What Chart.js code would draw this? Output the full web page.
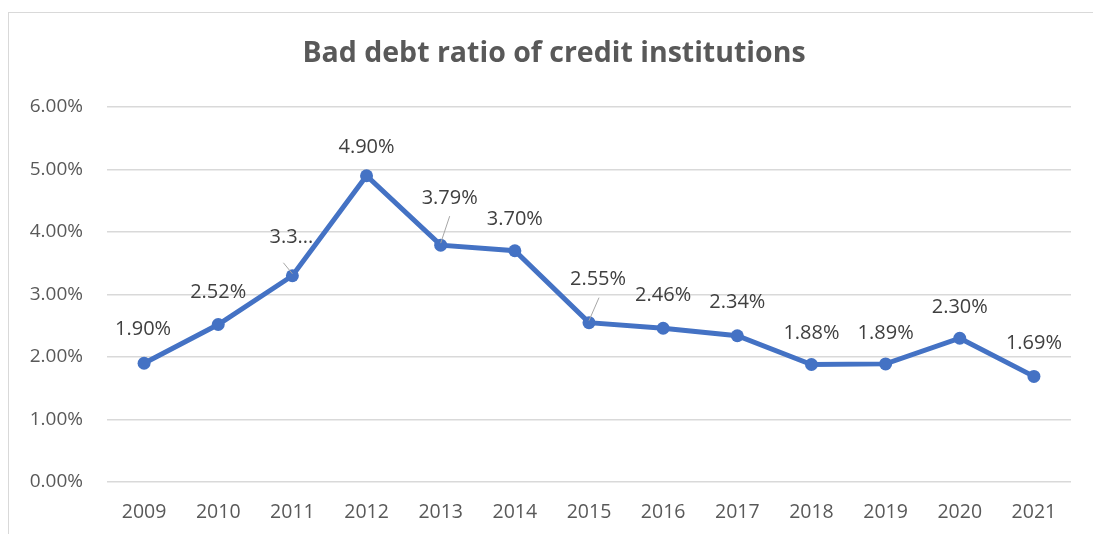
<!DOCTYPE html>
<html>
<head>
<meta charset="utf-8">
<script src="https://cdn.jsdelivr.net/npm/chart.js@4.4.1/dist/chart.umd.min.js"></script>
<style>
  html, body { margin: 0; padding: 0; background: #fff; overflow: hidden; }
  #frame { position: absolute; left: 8px; top: 12px; width: 1200px; height: 600px; border: 1px solid #d9d9d9; }
  #wrap { position: absolute; left: 0; top: 0; width: 1093px; height: 534px; }
</style>
</head>
<body>
<div id="frame"></div>
<div id="wrap"><canvas id="chart" width="1093" height="534"></canvas></div>
<script>
const years = ['2009', '2010', '2011', '2012', '2013', '2014', '2015', '2016', '2017', '2018', '2019', '2020', '2021'];
const badDebt = [1.90, 2.52, 3.30, 4.90, 3.79, 3.70, 2.55, 2.46, 2.34, 1.88, 1.89, 2.30, 1.69];
const yTicks = [0, 1, 2, 3, 4, 5, 6];
const chartTitle = 'Bad debt ratio of credit institutions';

// where each value label sits relative to its point, and which ones get a leader line
const labelShift = [
  [-1, -34], [0, -32], [-1, -38], [0, -28], [9, -47], [0, -31], [9, -43],
  [0, -33], [0, -33], [0, -31], [0, -31], [0, -31], [0, -33]
];
const leaders = { 2: [-9, -13], 4: [9, -29], 6: [10, -25] };

const ink = '#595959';
const fontFam = '"Open Sans", sans-serif';

// title is centred on the outer frame, not on the canvas, so draw it here
const frameTitle = {
  id: 'frameTitle',
  afterDraw(chart) {
    const ctx = chart.ctx;
    ctx.save();
    ctx.font = 'bold 28.5px ' + fontFam;
    ctx.fillStyle = ink;
    ctx.textAlign = 'center';
    ctx.textBaseline = 'middle';
    ctx.fillText(chartTitle, 554, 54);
    ctx.restore();
  }
};

const valueLabels = {
  id: 'valueLabels',
  afterDatasetsDraw(chart) {
    const ctx = chart.ctx;
    const pts = chart.getDatasetMeta(0).data;
    ctx.save();
    // leader lines first
    ctx.strokeStyle = '#a6a6a6';
    ctx.lineWidth = 1;
    Object.keys(leaders).forEach(k => {
      const p = pts[k];
      const d = leaders[k];
      ctx.beginPath();
      ctx.moveTo(p.x + d[0], p.y + d[1]);
      ctx.lineTo(p.x, p.y - 2);
      ctx.stroke();
    });
    ctx.font = '20px ' + fontFam;
    ctx.fillStyle = '#404040';
    ctx.textAlign = 'center';
    ctx.textBaseline = 'middle';
    pts.forEach((p, i) => {
      let txt = badDebt[i].toFixed(2) + '%';
      if (i === 2) txt = txt.slice(0, 3) + '...';
      ctx.fillText(txt, p.x + labelShift[i][0], p.y + labelShift[i][1]);
    });
    ctx.restore();
  }
};

new Chart(document.getElementById('chart'), {
  type: 'line',
  data: {
    labels: years,
    datasets: [{
      data: badDebt,
      borderColor: '#4472C4',
      backgroundColor: '#4472C4',
      borderWidth: 5,
      pointRadius: 6.5,
      pointHoverRadius: 6.5,
      pointBorderWidth: 0,
      tension: 0
    }]
  },
  options: {
    responsive: false,
    animation: false,
    layout: { padding: { left: 0, right: 22, top: 107, bottom: 0 } },
    plugins: {
      legend: { display: false },
      tooltip: { enabled: false },
      title: { display: false }
    },
    scales: {
      x: {
        offset: true,
        grid: { display: false, drawTicks: false },
        border: { display: false },
        ticks: { color: ink, font: { family: fontFam, size: 19.5 }, padding: 19, maxRotation: 0 },
        afterFit(scale) { scale.height = 52; }
      },
      y: {
        min: 0,
        max: 6,
        afterBuildTicks(scale) { scale.ticks = yTicks.map(v => ({ value: v })); },
        grid: { color: '#d9d9d9', lineWidth: 1.5, drawTicks: false },
        border: { display: false },
        ticks: {
          color: ink,
          font: { family: fontFam, size: 19 },
          padding: 24,
          callback: v => v.toFixed(2) + '%'
        },
        afterFit(scale) { scale.width = 107; }
      }
    }
  },
  plugins: [valueLabels, frameTitle]
});
</script>
</body>
</html>
